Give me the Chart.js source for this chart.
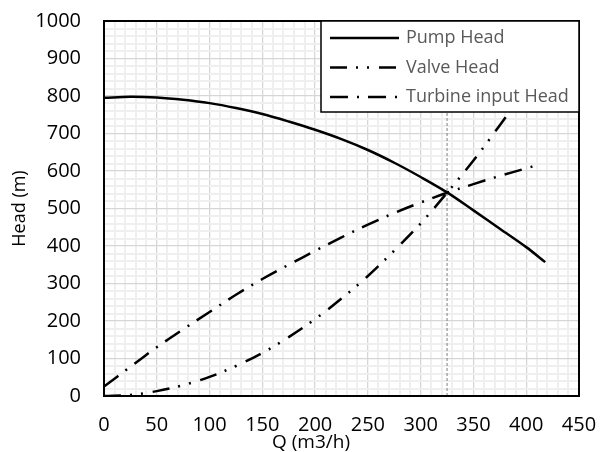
<!DOCTYPE html>
<html>
<head>
<meta charset="utf-8">
<script src="https://cdn.jsdelivr.net/npm/chart.js@4.4.1/dist/chart.umd.min.js"></script>
<style>
    html, body { margin: 0; padding: 0; background: #ffffff; }
    #chart { display: block; }
</style>
</head>
<body>
<canvas id="chart" width="600" height="452"></canvas>
<script>
// values
const pumpQ = [0, 25, 50, 75, 100, 125, 150, 175, 200, 225, 250, 275, 300, 325, 350, 375, 400, 418];
const pumpHead = [795, 798, 796, 790, 781, 768, 752, 732, 710, 685, 656, 622, 584, 543, 495, 446, 397, 357];

const valveQ = [0, 25, 50, 75, 100, 125, 150, 175, 200, 225, 250, 275, 300, 325, 350, 375, 400, 418];
const valveHead = [0, 3, 13, 29, 51, 80, 115, 157, 205, 260, 320, 388, 460, 542, 628, 722, 820, 897];

const turbineQ = [0, 25, 50, 75, 100, 125, 150, 175, 200, 225, 250, 275, 300, 325, 350, 375, 400, 412];
const turbineHead = [25, 78, 130, 178, 224, 270, 312, 350, 387, 423, 457, 488, 516, 542, 565, 587, 607, 617];

const operatingQ = [325, 325];
const operatingHead = [0, 1000];

const seriesNames = ['Pump Head', 'Valve Head', 'Turbine input Head'];

const FONT = '"Open Sans", "DejaVu Sans", sans-serif';

function toPoints(xs, ys) {
    return xs.map((x, i) => ({ x, y: ys[i] }));
}

const dashes = {
    pump: [],
    valve: [17, 9, 2, 9, 2, 10],
    turbine: [18, 9, 2, 9],
};

const frameAndLegend = {
    id: 'frameAndLegend',
    afterDraw(chart) {
        const { ctx, chartArea: a } = chart;
        ctx.save();

        // plot frame
        ctx.strokeStyle = '#000000';
        ctx.lineWidth = 2;
        ctx.setLineDash([]);
        ctx.strokeRect(a.left, a.top, a.right - a.left, a.bottom - a.top);

        // legend box in the top right corner
        const box = { x: 321, y: a.top, w: a.right - 321, h: 91 };
        ctx.fillStyle = '#ffffff';
        ctx.fillRect(box.x, box.y, box.w, box.h);
        ctx.lineWidth = 1.5;
        ctx.strokeRect(box.x, box.y, box.w, box.h);

        const samples = [dashes.pump, dashes.valve, dashes.turbine];
        ctx.font = `18px ${FONT}`;
        ctx.textBaseline = 'middle';
        ctx.textAlign = 'left';
        seriesNames.forEach((name, i) => {
            const y = box.y + 17 + i * 29.5;
            ctx.strokeStyle = '#000000';
            ctx.lineWidth = 2.5;
            ctx.setLineDash(samples[i]);
            ctx.beginPath();
            ctx.moveTo(330, y);
            ctx.lineTo(399, y);
            ctx.stroke();
            ctx.setLineDash([]);
            ctx.fillStyle = '#595959';
            ctx.fillText(name, 406, y);
        });

        // axis titles
        ctx.fillStyle = '#000000';
        ctx.font = `19px ${FONT}`;
        ctx.textAlign = 'center';
        ctx.fillText('Q (m3/h)', 311, 443);

        ctx.translate(20, (a.top + a.bottom) / 2);
        ctx.rotate(-Math.PI / 2);
        ctx.font = `18px ${FONT}`;
        ctx.fillText('Head (m)', 0, 0);

        ctx.restore();
    },
};

const lineStyle = {
    borderColor: '#000000',
    borderWidth: 2.5,
    pointRadius: 0,
    showLine: true,
    fill: false,
    tension: 0.35,
};

new Chart(document.getElementById('chart'), {
    type: 'scatter',
    data: {
        datasets: [
            { ...lineStyle, label: seriesNames[0], data: toPoints(pumpQ, pumpHead), borderDash: dashes.pump },
            { ...lineStyle, label: seriesNames[1], data: toPoints(valveQ, valveHead), borderDash: dashes.valve },
            { ...lineStyle, label: seriesNames[2], data: toPoints(turbineQ, turbineHead), borderDash: dashes.turbine },
            {
                label: 'operating point',
                data: toPoints(operatingQ, operatingHead),
                showLine: true,
                pointRadius: 0,
                borderColor: '#7f7f7f',
                borderWidth: 1,
                borderDash: [3, 2],
                tension: 0,
                order: 10,
            },
        ],
    },
    options: {
        responsive: false,
        animation: false,
        layout: { padding: { left: 0, top: 21, right: 21, bottom: 0 } },
        plugins: {
            legend: { display: false },
            tooltip: { enabled: false },
        },
        scales: {
            x: {
                type: 'linear',
                min: 0,
                max: 450,
                afterFit: (scale) => {
                    scale.height = 56;
                    scale.paddingLeft = 0;
                    scale.paddingRight = 0;
                },
                grid: {
                    drawTicks: false,
                    color: (c) => (c.tick.value % 50 === 0 ? '#d6d6d6' : '#efefef'),
                    lineWidth: (c) => (c.tick.value % 50 === 0 ? 1.3 : 2),
                },
                border: { display: false },
                ticks: {
                    stepSize: 10,
                    autoSkip: false,
                    maxRotation: 0,
                    padding: 17,
                    color: '#000000',
                    font: { family: FONT, size: 20 },
                    callback: (value) => (value % 50 === 0 ? value : ''),
                },
            },
            y: {
                min: 0,
                max: 1000,
                afterFit: (scale) => {
                    scale.width = 104;
                    scale.paddingTop = 0;
                    scale.paddingBottom = 0;
                },
                grid: {
                    drawTicks: false,
                    color: (c) => (c.tick.value % 100 === 0 ? '#d6d6d6' : '#efefef'),
                    lineWidth: (c) => (c.tick.value % 100 === 0 ? 1.3 : 2),
                },
                border: { display: false },
                ticks: {
                    stepSize: 20,
                    autoSkip: false,
                    padding: 23,
                    color: '#000000',
                    font: { family: FONT, size: 20 },
                    callback: (value) => (value % 100 === 0 ? value : ''),
                },
            },
        },
    },
    plugins: [frameAndLegend],
});
</script>
</body>
</html>
